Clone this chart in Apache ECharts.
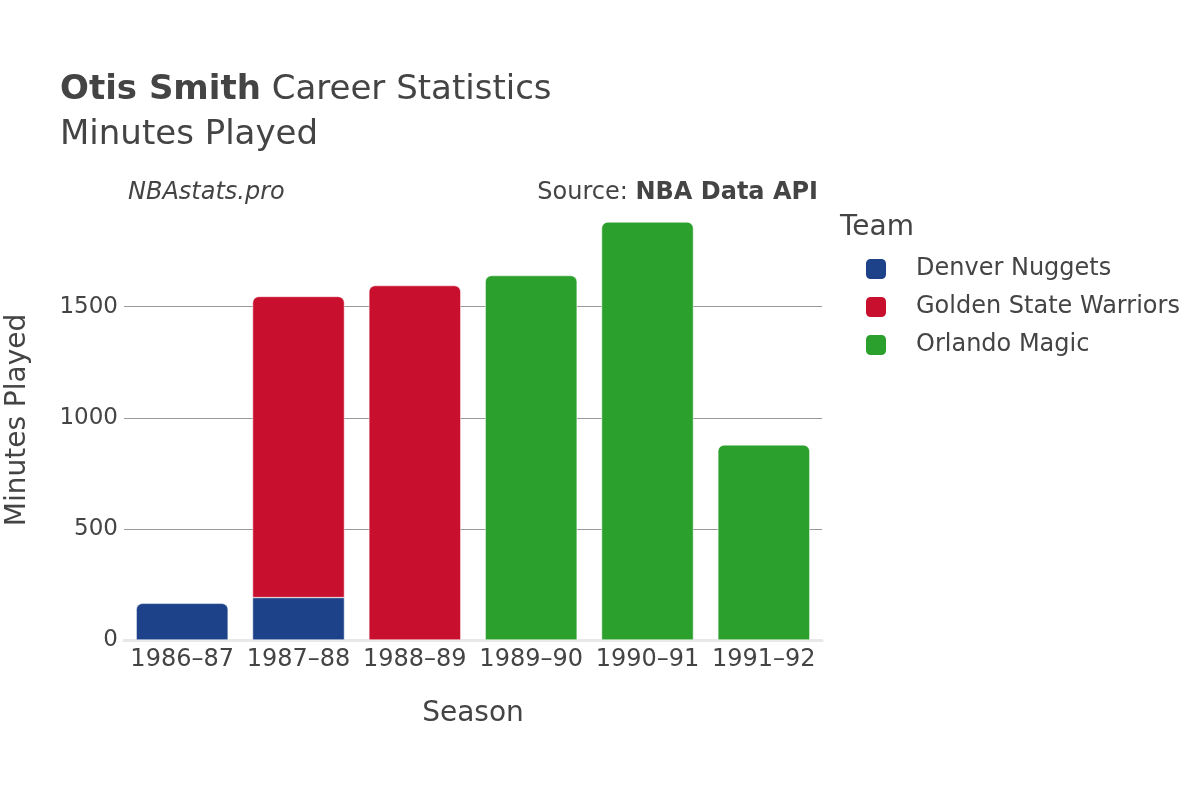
<!DOCTYPE html>
<html>
<head>
<meta charset="utf-8">
<script src="https://cdn.jsdelivr.net/npm/echarts@6/dist/echarts.min.js"></script>
<style>html,body{margin:0;padding:0;background:#fff}#c{width:1200px;height:800px}</style>
</head>
<body>
<div id="c"></div>
<script>
const seasons = ['1986\u201387', '1987\u201388', '1988\u201389', '1989\u201390', '1990\u201391', '1991\u201392'];
const teams = ['Denver Nuggets', 'Golden State Warriors', 'Orlando Magic'];
const teamColors = ['#1d428a', '#c8102e', '#2ca02c'];
const denver = [165, 191, null, null, null, null];
const warriors = [null, 1355, 1595, null, null, null];
const magic = [null, null, null, 1640, 1881, 878];
const yTicks = [0, 500, 1000, 1500];

const FONT = 'DejaVu Sans';
const seriesData = [denver, warriors, magic];

function topIndex(i) {
  let t = -1;
  seriesData.forEach((arr, k) => { if (arr[i] != null) t = k; });
  return t;
}

const series = seriesData.map((arr, k) => ({
  name: teams[k],
  type: 'bar',
  stack: 'total',
  barWidth: '79%',
  color: teamColors[k],
  data: arr.map((v, i) => v == null ? null : {
    value: v,
    itemStyle: {
      borderRadius: topIndex(i) === k ? [6, 6, 0, 0] : 0
    }
  }),
  itemStyle: { color: teamColors[k], borderColor: '#fff', borderWidth: 0.5 }
}));

const chart = echarts.init(document.getElementById('c'), null, { renderer: 'canvas' });
chart.setOption({
  backgroundColor: '#fff',
  animation: false,
  textStyle: { fontFamily: FONT },
  title: [
    { text: '{b|Otis Smith} Career Statistics', left: 55, top: 68,
      textStyle: { fontFamily: FONT, fontSize: 34, fontWeight: 'normal', color: '#444',
        rich: { b: { fontFamily: FONT, fontSize: 34, fontWeight: 'bold', color: '#444' } } } },
    { text: 'Minutes Played', left: 55, top: 113,
      textStyle: { fontFamily: FONT, fontSize: 34, fontWeight: 'normal', color: '#444' } },
    { text: 'NBAstats.pro', left: 123, top: 176,
      textStyle: { fontFamily: FONT, fontSize: 24, fontStyle: 'italic', fontWeight: 'normal', color: '#444' } },
    { text: 'Source: {b|NBA Data API}', right: 377, top: 176,
      textStyle: { fontFamily: FONT, fontSize: 24, fontWeight: 'normal', color: '#444',
        rich: { b: { fontFamily: FONT, fontSize: 24, fontWeight: 'bold', color: '#444' } } } },
    { text: 'Team', left: 835, top: 209,
      textStyle: { fontFamily: FONT, fontSize: 28, fontWeight: 'normal', color: '#444' } }
  ],
  legend: {
    orient: 'vertical', left: 859, top: 252,
    itemWidth: 22, itemHeight: 22, itemGap: 14,
    icon: 'roundRect',
    textStyle: { fontFamily: FONT, fontSize: 24, color: '#444', padding: [0, 0, 0, 24] },
    data: teams
  },
  grid: { left: 124, right: 378, top: 200, bottom: 160, containLabel: false, outerBoundsMode: 'none' },
  xAxis: {
    type: 'category', data: seasons,
    name: 'Season', nameLocation: 'middle', nameGap: 60,
    nameTextStyle: { fontFamily: FONT, fontSize: 28, color: '#444' },
    axisLine: { show: true, lineStyle: { color: '#e8e8e8', width: 3 } },
    axisTick: { show: false },
    axisLabel: { fontFamily: FONT, fontSize: 24, color: '#444', margin: 8, interval: 0 }
  },
  yAxis: {
    type: 'value', min: 0, max: 1980, interval: 500,
    name: 'Minutes Played', nameLocation: 'middle', nameGap: 92, nameRotate: 90,
    nameTextStyle: { fontFamily: FONT, fontSize: 28, color: '#444' },
    axisLine: { show: false }, axisTick: { show: false },
    axisLabel: { fontFamily: FONT, fontSize: 23, color: '#444', margin: 6, showMaxLabel: false,
      formatter: v => yTicks.includes(v) ? String(v) : '' },
    splitLine: { show: true, showMaxLine: false, showMinLine: false, lineStyle: { color: '#999', width: 1 } }
  },
  series: series
});
</script>
</body>
</html>
